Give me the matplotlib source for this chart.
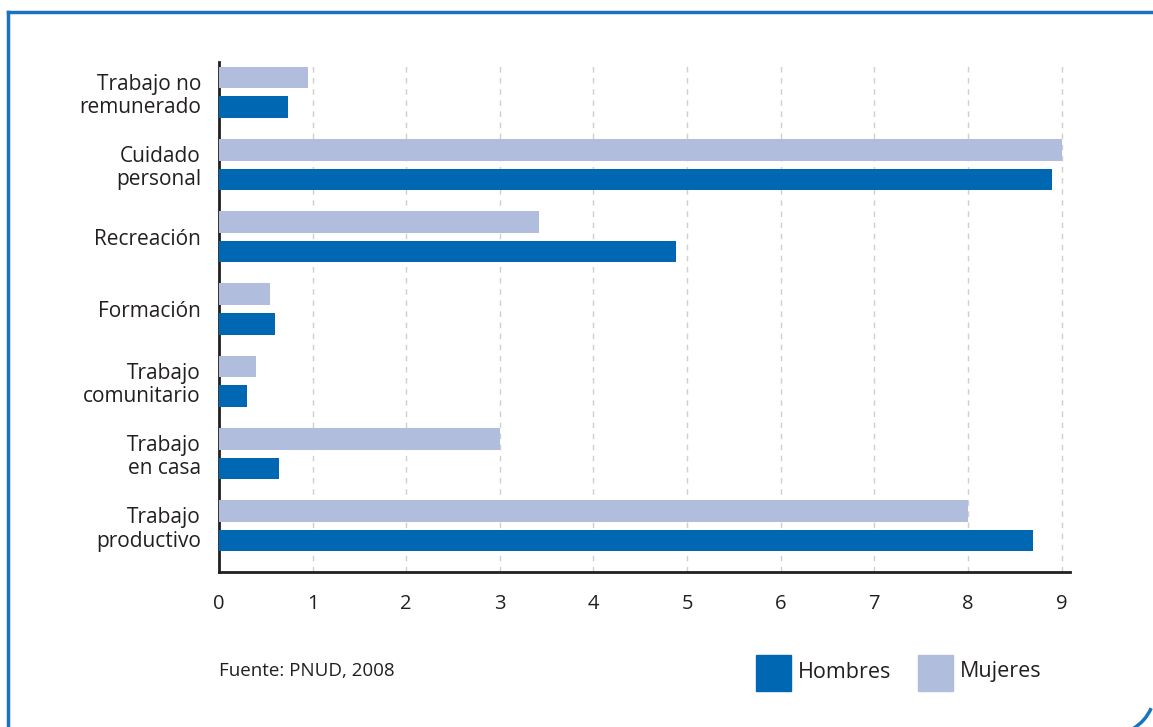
import numpy as np
import matplotlib.pyplot as plt
from matplotlib.patches import Arc
from matplotlib.lines import Line2D

# datos (horas por día)
categorias = ["Trabajo\nproductivo", "Trabajo\nen casa", "Trabajo\ncomunitario",
              "Formación", "Recreación", "Cuidado\npersonal", "Trabajo no\nremunerado"]
hombres = [8.7, 0.64, 0.3, 0.6, 4.88, 8.9, 0.74]
mujeres = [8.0, 3.0, 0.4, 0.55, 3.42, 9.0, 0.95]
ticks_x = [0, 1, 2, 3, 4, 5, 6, 7, 8, 9]

c_hombres = "#0068b3"
c_mujeres = "#b0bddd"
c_borde = "#1b74bb"

plt.rcParams['font.family'] = ['Open Sans', 'DejaVu Sans']

fig = plt.figure(figsize=(11.53, 7.27), dpi=100)
ax = fig.add_axes([219 / 1153, 1 - 572 / 727, (1070 - 219) / 1153, (572 - 62) / 727])

y = np.arange(len(categorias))
alto = 0.3
ax.barh(y + 0.205, mujeres, height=alto, color=c_mujeres, zorder=3)
ax.barh(y - 0.205, hombres, height=alto, color=c_hombres, zorder=3)

ax.set_xlim(0, 9.09)
ax.set_ylim(-0.64, 6.42)
ax.set_xticks(ticks_x)
ax.set_xticklabels([str(t) for t in ticks_x], fontsize=14.5, color="#231f20")
ax.set_yticks(y)
ax.set_yticklabels(categorias, fontsize=15, color="#231f20", multialignment="right",
                   linespacing=1.15)
ax.tick_params(axis="x", length=0, pad=16)
ax.tick_params(axis="y", length=0, pad=13)
for lbl in ax.get_yticklabels():
    lbl.set_y(lbl.get_position()[1])

ax.grid(axis="x", color="#cfcfcf", linestyle=(0, (4, 4)), linewidth=1, zorder=0)
for s in ["top", "right"]:
    ax.spines[s].set_visible(False)
ax.spines["left"].set_linewidth(2)
ax.spines["bottom"].set_linewidth(2)
ax.spines["left"].set_color("#231f20")
ax.spines["bottom"].set_color("#231f20")

# fuente y leyenda
fig.text(219 / 1153, 1 - 671 / 727, "Fuente: PNUD, 2008", fontsize=13.5,
         color="#231f20", va="center")
for x0, col, txt in [(756, c_hombres, "Hombres"), (918, c_mujeres, "Mujeres")]:
    fig.patches.append(plt.Rectangle((x0 / 1153, 1 - 691 / 727), 35 / 1153, 36 / 727,
                                     transform=fig.transFigure, color=col))
    fig.text((x0 + 42) / 1153, 1 - 672 / 727, txt, fontsize=15.5, color="#231f20",
             va="center")

# marco azul
fig.lines.append(Line2D([8 / 1153, 1.0], [1 - 12 / 727, 1 - 12 / 727],
                        transform=fig.transFigure, color=c_borde, linewidth=2.5))
fig.lines.append(Line2D([8 / 1153, 8 / 1153], [0.0, 1 - 12 / 727],
                        transform=fig.transFigure, color=c_borde, linewidth=2.5))
fig.patches.append(Arc((1110 / 1153, 1 - 690 / 727), 90 / 1153, 90 / 727,
                       theta1=-70, theta2=-35, transform=fig.transFigure,
                       color=c_borde, linewidth=2.5))

fig.savefig("out.png", dpi=100)
